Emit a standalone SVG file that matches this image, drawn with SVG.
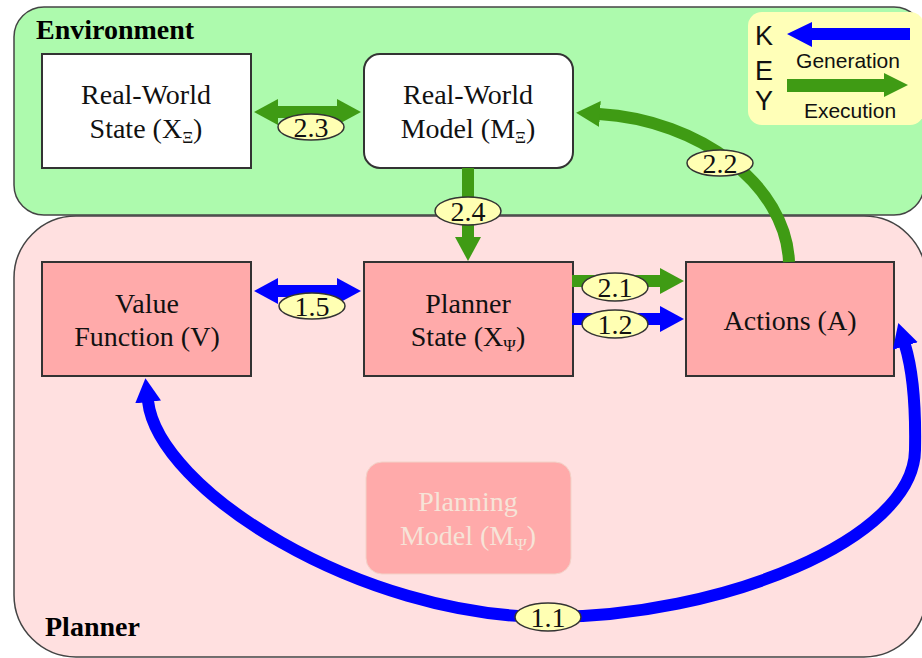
<svg xmlns="http://www.w3.org/2000/svg" width="922" height="658" viewBox="0 0 922 658">
<defs>
<style>
.serif{font-family:"Liberation Serif","Times New Roman",serif;}
.sans{font-family:"Liberation Sans",Arial,sans-serif;}
.nt{font-family:"Liberation Serif","Times New Roman",serif;font-size:28px;fill:#111;text-anchor:middle;}
.sub{font-size:17px;}
.title{font-family:"Liberation Serif","Times New Roman",serif;font-size:28px;font-weight:bold;fill:#000;}
.box{stroke:#333;stroke-width:2;}
.lbl ellipse{fill:#FFFFB3;stroke:#333;stroke-width:1.5;}
.lbl text{font-family:"Liberation Serif","Times New Roman",serif;font-size:28px;fill:#111;text-anchor:middle;}
.g{fill:none;stroke:#3F9B14;stroke-width:12;}
.b{fill:none;stroke:#0000FF;stroke-width:12;}
</style>
<marker id="hg" markerUnits="userSpaceOnUse" viewBox="0 0 24 26" markerWidth="24" markerHeight="26" refX="1" refY="13" orient="auto-start-reverse"><path d="M0,0 L24,13 L0,26 z" fill="#3F9B14"/></marker>
<marker id="hb" markerUnits="userSpaceOnUse" viewBox="0 0 24 26" markerWidth="24" markerHeight="26" refX="1" refY="13" orient="auto-start-reverse"><path d="M0,0 L24,13 L0,26 z" fill="#0000FF"/></marker>
</defs>

<g id="planner-region">
<rect x="14" y="216" width="912" height="441" rx="62" ry="62" fill="#FFE0E0" stroke="#444" stroke-width="1.5"/>
<text class="title" x="45" y="636">Planner</text>
</g>
<g id="environment-region">
<rect x="14" y="7" width="910" height="208" rx="30" ry="30" fill="#ADFAAD" stroke="#444" stroke-width="1.5"/>
<text class="title" x="36" y="39">Environment</text>
</g>

<g id="key">
<rect x="748" y="12" width="176" height="113" rx="14" ry="14" fill="#FFFFB8"/>
<text class="sans" x="764" y="45" font-size="27" text-anchor="middle" fill="#111">K</text>
<text class="sans" x="764" y="80" font-size="27" text-anchor="middle" fill="#111">E</text>
<text class="sans" x="764" y="110" font-size="27" text-anchor="middle" fill="#111">Y</text>
<polygon points="787,34 812,22 812,28 910,28 910,40 812,40 812,47" fill="#0000FF"/>
<text class="sans" x="848" y="68" font-size="21" text-anchor="middle" fill="#111">Generation</text>
<polygon points="908,85 884,73 884,79 787,79 787,92 884,92 884,97" fill="#3F9B14"/>
<text class="sans" x="850" y="118" font-size="21" text-anchor="middle" fill="#111">Execution</text>
</g>

<g id="real-world-state">
<rect class="box" x="42" y="54" width="209" height="114" fill="#FFFFFF"/>
<text class="nt" x="146" y="104">Real-World</text>
<text class="nt" x="146" y="138">State (X<tspan class="sub" dy="5">Ξ</tspan><tspan dy="-5">)</tspan></text>
</g>
<g id="real-world-model">
<rect class="box" x="364" y="54" width="209" height="114" rx="16" ry="16" fill="#FFFFFF"/>
<text class="nt" x="468" y="104">Real-World</text>
<text class="nt" x="468" y="138">Model (M<tspan class="sub" dy="5">Ξ</tspan><tspan dy="-5">)</tspan></text>
</g>
<g id="value-function">
<rect class="box" x="42" y="262" width="209" height="114" fill="#FFAAAA"/>
<text class="nt" x="147" y="313">Value</text>
<text class="nt" x="147" y="346">Function (V)</text>
</g>
<g id="planner-state">
<rect class="box" x="364" y="262" width="209" height="114" fill="#FFAAAA"/>
<text class="nt" x="468" y="313">Planner</text>
<text class="nt" x="468" y="346">State (X<tspan class="sub" dy="5">Ψ</tspan><tspan dy="-5">)</tspan></text>
</g>
<g id="actions">
<rect class="box" x="686" y="262" width="208" height="114" fill="#FFAAAA"/>
<text class="nt" x="790" y="330">Actions (A)</text>
</g>
<g id="planning-model">
<rect x="366" y="462" width="205" height="112" rx="16" ry="16" fill="#FFAAAA" stroke="#F3D2C8" stroke-width="1"/>
<text class="nt" x="468" y="511" style="fill:#F6E4D8">Planning</text>
<text class="nt" x="468" y="545" style="fill:#F6E4D8">Model (M<tspan class="sub" dy="5">Ψ</tspan><tspan dy="-5">)</tspan></text>
</g>

<g id="connectors">
<path class="g" d="M277,112 L338,112" marker-start="url(#hg)" marker-end="url(#hg)"/>
<path class="g" d="M468,168 L468,238" marker-end="url(#hg)"/>
<path class="g" d="M789,262 C786,185 700,120 599,114" marker-end="url(#hg)"/>
<path class="b" d="M277,291 L338,291" marker-start="url(#hb)" marker-end="url(#hb)"/>
<path class="g" d="M572,281 L661,281" marker-end="url(#hg)"/>
<path class="b" d="M572,319 L661,319" marker-end="url(#hb)"/>
<path class="b" d="M148,401 C158,490 360,617 548,617 C720,617 914,540 915,450 C916,400 912,368 905,345" marker-start="url(#hb)" marker-end="url(#hb)"/>
<g class="lbl"><ellipse cx="311" cy="127" rx="33" ry="13"/><text x="311" y="137">2.3</text></g>
<g class="lbl"><ellipse cx="468" cy="211" rx="33" ry="14"/><text x="468" y="221">2.4</text></g>
<g class="lbl"><ellipse cx="720" cy="163" rx="33" ry="13"/><text x="720" y="173">2.2</text></g>
<g class="lbl"><ellipse cx="312" cy="306" rx="33" ry="13"/><text x="312" y="316">1.5</text></g>
<g class="lbl"><ellipse cx="615" cy="287" rx="33" ry="14"/><text x="615" y="297">2.1</text></g>
<g class="lbl"><ellipse cx="615" cy="324" rx="33" ry="14"/><text x="615" y="334">1.2</text></g>
<g class="lbl"><ellipse cx="548" cy="617" rx="33" ry="14"/><text x="548" y="627">1.1</text></g>
</g>
</svg>
